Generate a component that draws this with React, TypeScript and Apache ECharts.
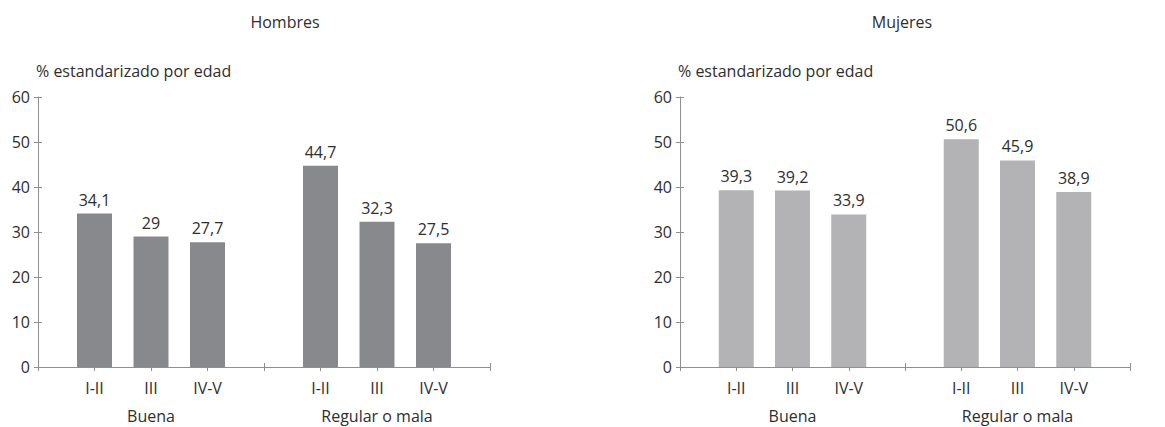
import React, { useEffect, useRef } from "react";
import * as echarts from "echarts";

const categories = ["", "I-II", "III", "IV-V", "", "I-II", "III", "IV-V", ""];
const groupLabels = ["", "", "Buena", "", "", "", "Regular o mala", "", ""];
const hombres = [null, 34.1, 29, 27.7, null, 44.7, 32.3, 27.5, null];
const mujeres = [null, 39.3, 39.2, 33.9, null, 50.6, 45.9, 38.9, null];
const panelTitles = ["Hombres", "Mujeres"];
const yName = "% estandarizado por edad";

const FONT = "Open Sans";
const TEXT = "#2e2e2e";
const AXIS = "#8f8f8f";
const FS = 16;

export default function App() {
  const ref = useRef<HTMLDivElement>(null);
  useEffect(() => {
    if (!ref.current) return;
    const chart = echarts.init(ref.current, null, { renderer: "svg" });
    const grids = [
      { left: 38, top: 97, width: 452, height: 270 },
      { left: 680, top: 97, width: 450, height: 270 },
    ];
    const xAxis: any[] = [];
    const yAxis: any[] = [];
    grids.forEach((_, gi) => {
      xAxis.push({
        type: "category",
        gridIndex: gi,
        data: categories,
        boundaryGap: false,
        position: "bottom",
        axisLine: { lineStyle: { color: AXIS, width: 1 } },
        axisTick: { show: true, length: 4, lineStyle: { color: AXIS } },
        axisLabel: { color: TEXT, fontFamily: FONT, fontSize: FS, margin: 13, interval: 0 },
      });
      xAxis.push({
        type: "category",
        gridIndex: gi,
        data: groupLabels,
        boundaryGap: false,
        position: "bottom",
        axisLine: { show: false },
        axisTick: { show: true, inside: true, length: 4, lineStyle: { color: AXIS } },
        axisLabel: { color: TEXT, fontFamily: FONT, fontSize: FS, margin: 41, interval: 0 },
      });
      yAxis.push({
        type: "value",
        gridIndex: gi,
        min: 0,
        max: 60,
        interval: 10,
        position: "left",
        name: yName,
        nameLocation: "end",
        nameGap: 26,
        nameTextStyle: { color: TEXT, fontFamily: FONT, fontSize: FS, align: "left", verticalAlign: "middle", padding: [0, 0, 0, -2] },
        axisLine: { show: true, lineStyle: { color: AXIS, width: 1 } },
        axisTick: { show: true, length: 4, lineStyle: { color: AXIS } },
        axisLabel: { color: TEXT, fontFamily: FONT, fontSize: FS, margin: 8 },
        splitLine: { show: false },
      });
      yAxis.push({
        type: "value",
        gridIndex: gi,
        min: 0,
        max: 60,
        interval: 10,
        position: "left",
        axisLine: { show: false },
        axisTick: { show: true, inside: true, length: 4, lineStyle: { color: AXIS } },
        axisLabel: { show: false },
        splitLine: { show: false },
      });
    });
    const fmt = (p: any) => String(p.value).replace(".", ",");
    const makeSeries = (data: any[], gi: number, color: string) => ({
      type: "bar",
      xAxisIndex: gi * 2,
      yAxisIndex: gi * 2,
      data,
      barWidth: 35,
      itemStyle: { color },
      label: { show: true, position: "top", distance: 6, color: TEXT, fontFamily: FONT, fontSize: FS, formatter: fmt },
    });
    chart.setOption({
      animation: false,
      backgroundColor: "#ffffff",
      grid: grids,
      xAxis,
      yAxis,
      graphic: [
        { type: "text", x: 285, y: 22, style: { text: panelTitles[0], fill: TEXT, font: `${FS}px "${FONT}"`, align: "center", verticalAlign: "middle" } },
        { type: "text", x: 902, y: 22, style: { text: panelTitles[1], fill: TEXT, font: `${FS}px "${FONT}"`, align: "center", verticalAlign: "middle" } },
      ],
      series: [makeSeries(hombres, 0, "#88898c"), makeSeries(mujeres, 1, "#b3b3b5")],
    });
    return () => chart.dispose();
  }, []);
  return <div ref={ref} style={{ position: "fixed", left: 0, top: 0, width: 1165, height: 427 }} />;
}
